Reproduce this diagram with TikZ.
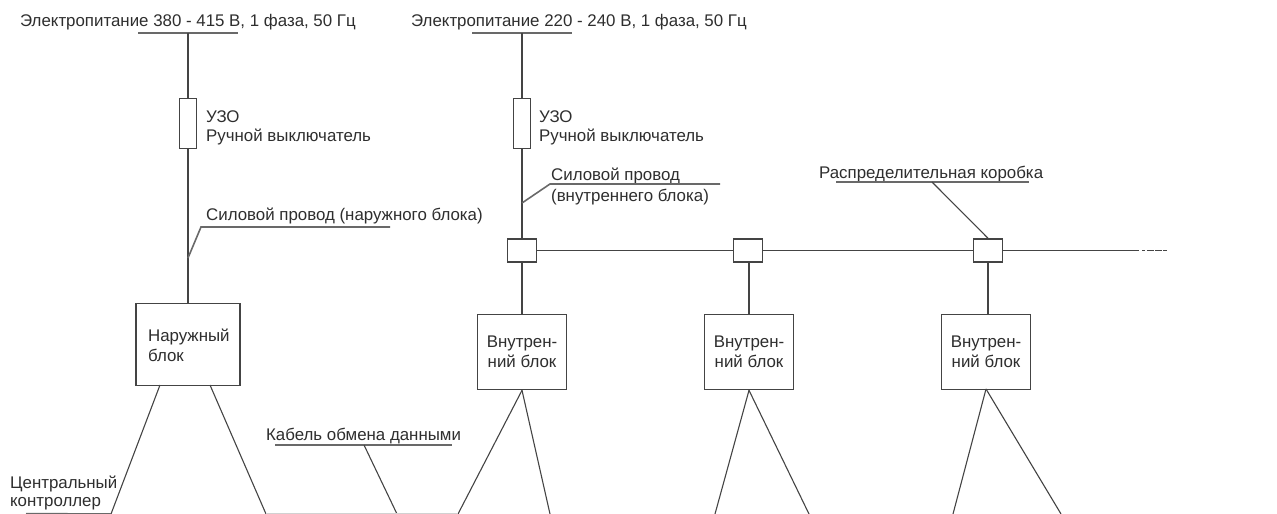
\documentclass[tikz,border=0pt]{standalone}
\usepackage{fontspec}
\setmainfont{Liberation Sans}
\usetikzlibrary{positioning}
\definecolor{wireink}{HTML}{444444}
\definecolor{textink}{HTML}{2E2E2E}
\tikzset{
	wire/.style={draw=wireink, line width=0.065cm},
	thinwire/.style={draw=wireink, line width=0.055cm},
	bar/.style={draw=wireink!80, line width=0.08cm},
	lbl/.style={text=textink, inner sep=0pt, anchor=base west, font=\fontsize{24}{28}\selectfont, align=left},
	fuse/.style={wire, fill=white, minimum width=0.85cm, minimum height=2.5cm, inner sep=0pt, anchor=north},
	jbox/.style={wire, fill=white, minimum width=1.45cm, minimum height=1.15cm, inner sep=0pt},
	unit/.style={wire, fill=white, text=textink, minimum width=4.45cm, minimum height=3.75cm, inner sep=0pt, anchor=north, align=center, font=\fontsize{24}{28.5}\selectfont},
}
\begin{document}
\begin{tikzpicture}
	\useasboundingbox (0,0) rectangle (63.85,-25.7);
	\coordinate (s0) at (9.4,-1.65);
	\coordinate (s1) at (26.1,-1.65);
	\coordinate[left=2.5cm of s0] (s0l);
	\coordinate[right=2.5cm of s0] (s0r);
	\coordinate[left=2.5cm of s1] (s1l);
	\coordinate[right=2.5cm of s1] (s1r);
	\node[lbl] (t0) at (1.0,-1.35) {Электропитание 380 - 415 В, 1 фаза, 50 Гц};
	\node[lbl] (t1) at (20.55,-1.35) {Электропитание 220 - 240 В, 1 фаза, 50 Гц};
	\node[fuse, below=3.25cm of s0] (f0) {};
	\node[fuse, below=3.25cm of s1] (f1) {};
	\node[lbl] (u0) at (10.3,-6.12) {УЗО};
	\node[lbl] (r0) at (10.3,-7.1) {Ручной выключатель};
	\node[lbl] (u1) at (26.95,-6.12) {УЗО};
	\node[lbl] (r1) at (26.95,-7.1) {Ручной выключатель};

	\node[unit, minimum height=4.1cm, minimum width=5.2cm] (out) at (9.4,-15.15) {};
	\node[lbl] (outt) at (7.4,-17.05) {Наружный};
	\node[lbl] (outb) at (7.4,-18.05) {блок};

	\node[jbox] (j0) at (26.1,-12.52) {};
	\node[jbox] (j1) at (37.4,-12.52) {};
	\node[jbox] (j2) at (49.4,-12.52) {};
	\node[unit] (i0) at (26.1,-15.7) {Внутрен-\\ний блок};
	\node[unit] (i1) at (37.45,-15.7) {Внутрен-\\ний блок};
	\node[unit] (i2) at (49.3,-15.7) {Внутрен-\\ний блок};

	\draw[bar] (s0l) -- (s0r);
	\draw[bar] (s1l) -- (s1r);
	\draw[wire] (s0) -- (f0);
	\draw[wire] (s1) -- (f1);
	\draw[wire] (f0) -- (out);
	\draw[wire] (f1) -- (j0);
	\draw[wire] (j0) -- (i0);
	\draw[wire] (i1.north) -- (i1 |- j1.south);
	\draw[wire] (j2.south) -- (j2 |- i2.north);
	\draw[wire, line width=0.085cm] (j0) -- (j1);
	\draw[wire, line width=0.085cm] (j1) -- (j2);
	\coordinate (e0) at (56.95,-12.52);
	\coordinate (e1) at (57.1,-12.52);
	\coordinate (e2) at (57.25,-12.52);
	\coordinate (e3) at (58.35,-12.52);
	\draw[wire, line width=0.085cm] (j2) -- (e0);
	\draw[wire, line width=0.04cm] (e1) -- (e2);
	\draw[wire, line width=0.05cm, dash pattern=on 0.35cm off 0.05cm] (e2) ++(0.1,0) -- (e3);

	\node[lbl] (p0) at (10.3,-11.0) {Силовой провод (наружного блока)};
	\coordinate (p0a) at (9.4,-12.9);
	\coordinate (p0b) at (10.05,-11.35);
	\coordinate (p0c) at (19.5,-11.35);
	\draw[bar] (p0a) -- (p0b) -- (p0c);

	\node[lbl] (p1) at (27.55,-9.05) {Силовой провод};
	\node[lbl] (p2) at (27.55,-10.1) {(внутреннего блока)};
	\coordinate (p1a) at (26.1,-10.15);
	\coordinate (p1b) at (27.5,-9.2);
	\coordinate (p1c) at (36.0,-9.2);
	\draw[bar] (p1a) -- (p1b) -- (p1c);

	\node[lbl] (d0) at (40.95,-8.95) {Распределительная коробка};
	\coordinate (d0l) at (41.8,-9.1);
	\coordinate (d0r) at (51.45,-9.1);
	\coordinate (d0m) at (46.6,-9.1);
	\draw[bar] (d0l) -- (d0r);
	\draw[thinwire] (d0m) -- (j2.north);

	\node[lbl] (k0) at (13.3,-22.0) {Кабель обмена данными};
	\coordinate (k0l) at (13.75,-22.25);
	\coordinate (k0r) at (22.6,-22.25);
	\coordinate (k0m) at (18.2,-22.25);
	\coordinate (k0b) at (19.85,-25.7);
	\draw[bar] (k0l) -- (k0r);
	\draw[thinwire] (k0m) -- (k0b);

	\node[lbl] (c0) at (0.5,-24.4) {Центральный};
	\node[lbl] (c1) at (0.5,-25.33) {контроллер};

	\coordinate (o0) at (5.55,-25.7);
	\coordinate (o1) at (13.3,-25.7);
	\coordinate (n0) at (22.9,-25.7);
	\coordinate (n1) at (27.5,-25.7);
	\coordinate (n2) at (35.75,-25.7);
	\coordinate (n3) at (40.45,-25.7);
	\coordinate (n4) at (47.65,-25.7);
	\coordinate (n5) at (53.05,-25.7);
	\coordinate (c2) at (1.3,-25.68);
	\coordinate (o0t) at (8.0,-19.25);
	\coordinate (o1t) at (10.5,-19.25);
	\coordinate (i2b) at (49.3,-19.45);
	\draw[thinwire] (o0t) -- (o0);
	\draw[thinwire] (o1t) -- (o1);
	\draw[thinwire] (i0.south) -- (n0);
	\draw[thinwire] (i0.south) -- (n1);
	\draw[thinwire] (i1.south) -- (n2);
	\draw[thinwire] (i1.south) -- (n3);
	\draw[thinwire] (i2b) -- (n4);
	\draw[thinwire] (i2b) -- (n5);
	\draw[bar] (c2) -- (o0);
	\draw[draw=black!18, line width=0.06cm] (o1) -- (n0);
\end{tikzpicture}
\end{document}
